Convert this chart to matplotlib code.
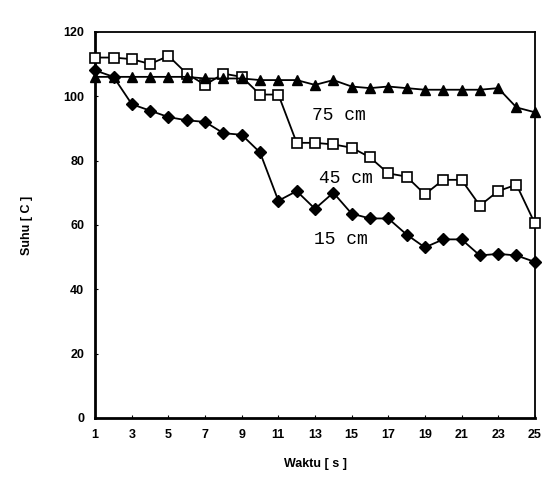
import matplotlib
matplotlib.use('Agg')
import matplotlib.pyplot as plt

# waktu (s)
waktu = list(range(1, 26))

# suhu (C) at three depths
suhu_15 = [108, 106, 97.5, 95.5, 93.5, 92.5, 92, 88.5, 88, 82.5, 67.5, 70.5, 65, 70,
           63.5, 62, 62, 57, 53, 55.5, 55.5, 50.5, 51, 50.5, 48.5]
suhu_45 = [112, 112, 111.5, 110, 112.5, 107, 103.5, 107, 106, 100.5, 100.5, 85.5, 85.5, 85,
           84, 81, 76, 75, 69.5, 74, 74, 66, 70.5, 72.5, 60.5]
suhu_75 = [106, 106, 106, 106, 106, 106, 105.5, 105.5, 105.5, 105, 105, 105, 103.5, 105,
           103, 102.5, 103, 102.5, 102, 102, 102, 102, 102.5, 96.5, 95]

series_labels = ['15 cm', '45 cm', '75 cm']
xticks = list(range(1, 26, 2))
yticks = list(range(0, 121, 20))

fig = plt.figure(figsize=(5.6, 4.97), dpi=100)
ax = fig.add_axes([0.17, 0.159, 0.785, 0.777])

ax.plot(waktu, suhu_15, color='black', lw=1.3, marker='D', ms=6,
        mfc='black', mec='black', clip_on=False, zorder=3)
ax.plot(waktu, suhu_45, color='black', lw=1.3, marker='s', ms=7.5,
        mfc='white', mec='black', mew=1.2, clip_on=False, zorder=3)
ax.plot(waktu, suhu_75, color='black', lw=1.3, marker='^', ms=7.5,
        mfc='black', mec='black', clip_on=False, zorder=3)

# inline series labels
ax.text(14.3, 92.5, series_labels[2], family='Liberation Mono', fontsize=13, ha='center')
ax.text(14.7, 73, series_labels[1], family='Liberation Mono', fontsize=13, ha='center')
ax.text(14.4, 54, series_labels[0], family='Liberation Mono', fontsize=13, ha='center')

ax.set_xlim(1, 25)
ax.set_ylim(0, 120)
ax.set_xticks(xticks)
ax.set_yticks(yticks)
ax.tick_params(direction='in', length=2, labelsize=9, pad=8)
for lab in ax.get_xticklabels() + ax.get_yticklabels():
    lab.set_fontweight('bold')
    lab.set_family('Liberation Sans')

for side in ['left', 'bottom']:
    ax.spines[side].set_linewidth(2)
for side in ['right', 'top']:
    ax.spines[side].set_linewidth(1.3)

ax.set_xlabel('Waktu [ s ]', fontsize=9, fontweight='bold', family='Liberation Sans', labelpad=12)
ax.set_ylabel('Suhu [ C ]', fontsize=9, fontweight='bold', family='Liberation Sans', labelpad=22)

fig.savefig('out.png', dpi=100)
